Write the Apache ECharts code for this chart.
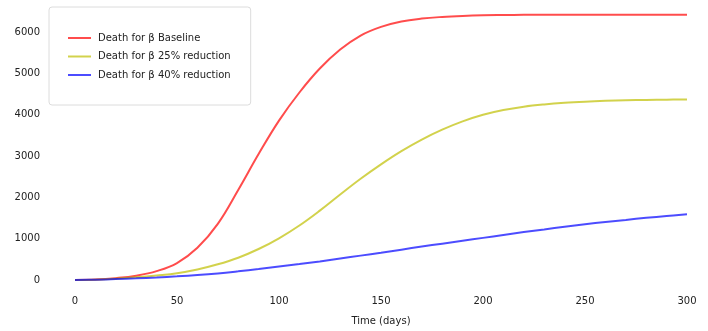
<!DOCTYPE html>
<html>
<head>
<meta charset="utf-8">
<script src="https://cdn.jsdelivr.net/npm/echarts@6/dist/echarts.min.js"></script>
<style>
  html, body { margin: 0; padding: 0; background: #fff; }
  #chart { width: 708px; height: 331px; }
</style>
</head>
<body>
<div id="chart"></div>
<script>
// days 0..300, every 10 days
var days = [0, 10, 20, 30, 40, 50, 60, 70, 80, 90, 100, 110, 120, 130, 140, 150,
            160, 170, 180, 190, 200, 210, 220, 230, 240, 250, 260, 270, 280, 290, 300]
var deathBaseline = [0, 10, 45, 105, 215, 410, 780, 1360, 2180, 3050, 3860, 4540, 5120, 5580, 5920, 6130,
                     6260, 6330, 6370, 6395, 6410, 6416, 6420, 6421, 6422, 6422, 6422, 6422, 6422, 6422, 6422]
var death25 = [0, 8, 30, 65, 110, 165, 255, 380, 540, 750, 1010, 1320, 1680, 2070, 2450, 2800,
               3120, 3400, 3640, 3840, 4000, 4115, 4195, 4250, 4290, 4318, 4338, 4352, 4361, 4367, 4370]
var death40 = [0, 8, 22, 40, 62, 88, 120, 160, 210, 265, 325, 385, 450, 520, 590, 660,
               735, 810, 880, 950, 1020, 1090, 1160, 1225, 1290, 1350, 1405, 1455, 1505, 1550, 1590]
var seriesNames = ['Death for β Baseline', 'Death for β 25% reduction', 'Death for β 40% reduction']
var seriesColors = ['rgba(255,0,0,0.7)', 'rgba(191,191,0,0.7)', 'rgba(0,0,255,0.7)']
var yTicks = [0, 1000, 2000, 3000, 4000, 5000, 6000]
var xTicks = [0, 50, 100, 150, 200, 250, 300]

function pairs(ys) {
    return days.map(function (d, i) { return [d, ys[i]] })
}

var font = 'DejaVu Sans'
var chart = echarts.init(document.getElementById('chart'), null, {renderer: 'canvas'})

var allData = [deathBaseline, death25, death40]
var option = {
    animation: false,
    backgroundColor: '#fff',
    color: seriesColors,
    grid: {left: 75, right: 21, top: 0, bottom: 50},
    legend: {
        orient: 'vertical',
        left: 49,
        top: 7,
        width: 203,
        backgroundColor: '#fff',
        borderColor: '#dcdcdc',
        borderWidth: 1,
        borderRadius: 3,
        padding: [25, 20, 24, 19],
        icon: 'rect',
        itemWidth: 23,
        itemHeight: 2,
        itemGap: 6.5,
        textStyle: {fontFamily: font, fontSize: 10, color: '#222', lineHeight: 12, padding: [0, 0, 0, 2]},
        data: seriesNames
    },
    xAxis: {
        type: 'value',
        min: 0,
        max: 300,
        interval: 50,
        name: 'Time (days)',
        nameLocation: 'middle',
        nameGap: 36,
        nameTextStyle: {fontFamily: font, fontSize: 10, color: '#222'},
        axisLine: {show: false},
        axisTick: {show: false},
        splitLine: {show: false},
        axisLabel: {
            fontFamily: font, fontSize: 10, color: '#222', margin: 16,
            formatter: function (v) { return xTicks.indexOf(v) >= 0 ? String(v) : '' }
        }
    },
    yAxis: {
        type: 'value',
        min: 0,
        max: 6780,
        interval: 1000,
        axisLine: {show: false},
        axisTick: {show: false},
        splitLine: {show: false},
        axisLabel: {
            fontFamily: font, fontSize: 10, color: '#222', margin: 35,
            showMaxLabel: false,
            formatter: function (v) { return yTicks.indexOf(v) >= 0 ? String(v) : '' }
        }
    },
    series: seriesNames.map(function (name, i) {
        return {
            name: name,
            type: 'line',
            data: pairs(allData[i]),
            showSymbol: false,
            symbol: 'none',
            smooth: 0.4,
            lineStyle: {width: 2, color: seriesColors[i]}
        }
    })
}
chart.setOption(option)
</script>
</body>
</html>
